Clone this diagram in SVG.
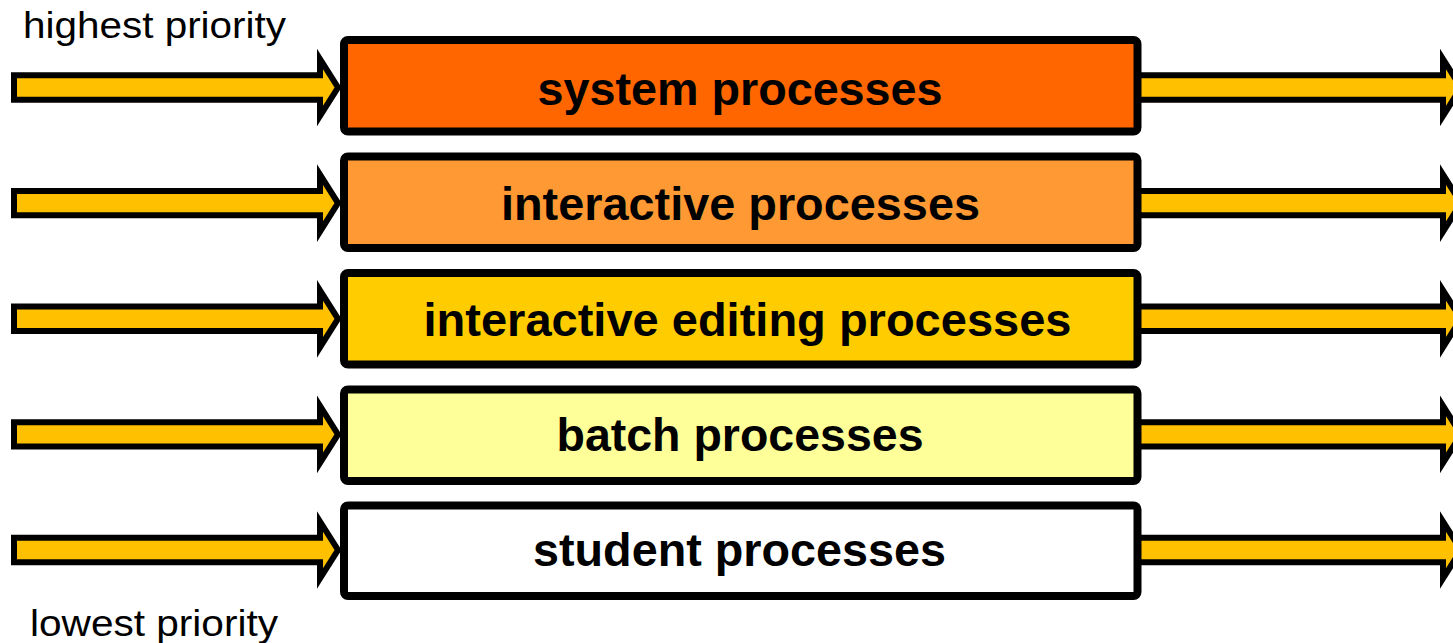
<svg xmlns="http://www.w3.org/2000/svg" width="1453" height="643" viewBox="0 0 1453 643">
  <defs>
    <style>
      .arrow { fill: #FFC000; stroke: #000000; stroke-width: 6; stroke-linejoin: miter; stroke-miterlimit: 10; }
      .box { stroke: #000000; stroke-width: 8; }
      .boxlabel { font-family: "Liberation Sans", Arial, sans-serif; font-weight: bold; font-size: 46px; fill: #000000; text-anchor: middle; }
      .side { font-family: "Liberation Sans", Arial, sans-serif; font-size: 36px; fill: #000000; }
    </style>
    <path id="larrow" d="M14,-12.2 L320,-12.2 L320,-28.5 L338,0 L320,28.5 L320,12.2 L14,12.2 Z"/>
    <path id="rarrow" d="M1137,-12.2 L1443,-12.2 L1443,-28.5 L1461,0 L1443,28.5 L1443,12.2 L1137,12.2 Z"/>
  </defs>
  <rect x="0" y="0" width="1453" height="643" fill="#FFFFFF"/>
  <g id="connectors">
    <use href="#larrow" class="arrow" transform="translate(0,87.5)"/>
    <use href="#larrow" class="arrow" transform="translate(0,203.1)"/>
    <use href="#larrow" class="arrow" transform="translate(0,318.8)"/>
    <use href="#larrow" class="arrow" transform="translate(0,434.4)"/>
    <use href="#larrow" class="arrow" transform="translate(0,550)"/>
    <use href="#rarrow" class="arrow" transform="translate(0,87.5)"/>
    <use href="#rarrow" class="arrow" transform="translate(0,203.1)"/>
    <use href="#rarrow" class="arrow" transform="translate(0,318.8)"/>
    <use href="#rarrow" class="arrow" transform="translate(0,434.4)"/>
    <use href="#rarrow" class="arrow" transform="translate(0,550)"/>
  </g>
  <g id="system">
    <rect class="box" x="344" y="40" width="793.5" height="91.5" rx="4" fill="#FF6600"/>
    <text class="boxlabel" x="740" y="105" textLength="405" lengthAdjust="spacingAndGlyphs">system processes</text>
  </g>
  <g id="interactive">
    <rect class="box" x="344" y="156.5" width="793.5" height="91.5" rx="4" fill="#FF9933"/>
    <text class="boxlabel" x="740.5" y="220.3" textLength="479" lengthAdjust="spacingAndGlyphs">interactive processes</text>
  </g>
  <g id="editing">
    <rect class="box" x="344" y="273" width="793.5" height="91.5" rx="4" fill="#FFCC00"/>
    <text class="boxlabel" x="747.5" y="335.7" textLength="648" lengthAdjust="spacingAndGlyphs">interactive editing processes</text>
  </g>
  <g id="batch">
    <rect class="box" x="344" y="389.5" width="793.5" height="91.5" rx="4" fill="#FFFF99"/>
    <text class="boxlabel" x="740" y="451" textLength="367" lengthAdjust="spacingAndGlyphs">batch processes</text>
  </g>
  <g id="student">
    <rect class="box" x="344" y="505.5" width="793.5" height="90.5" rx="4" fill="#FFFFFF"/>
    <text class="boxlabel" x="739.5" y="566.3" textLength="413" lengthAdjust="spacingAndGlyphs">student processes</text>
  </g>
  <g id="labels">
    <text class="side" x="23" y="38" textLength="263" lengthAdjust="spacingAndGlyphs">highest priority</text>
    <text class="side" x="30" y="636" textLength="248" lengthAdjust="spacingAndGlyphs">lowest priority</text>
  </g>
</svg>
